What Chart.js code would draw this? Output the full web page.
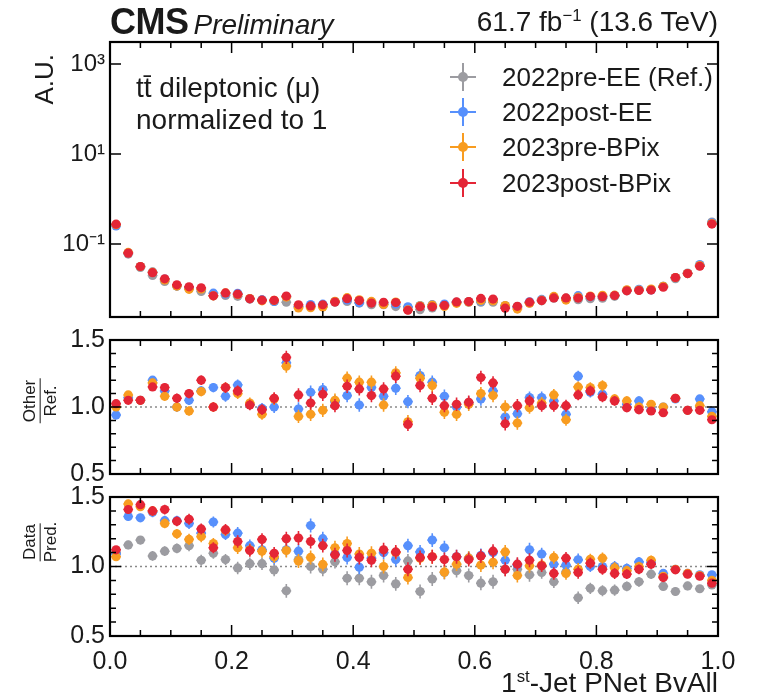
<!DOCTYPE html>
<html>
<head>
<meta charset="utf-8">
<script src="https://cdn.jsdelivr.net/npm/chart.js@4.4.1/dist/chart.umd.min.js"></script>
<style>
  body { margin: 0; background: #fff; }
  #wrap { position: relative; width: 757px; height: 694px; overflow: hidden;
          font-family: "Liberation Sans", Arial, sans-serif; color: #1a1a1a; }
  canvas { position: absolute; left: 0; }
  .txt { position: absolute; white-space: nowrap; line-height: 1; }
  sup { font-size: 0.6em; position: relative; top: -0.6em; vertical-align: baseline; }
  .frac { position: absolute; transform: translate(-50%, -50%) rotate(-90deg);
          display: flex; flex-direction: column; align-items: center; font-size: 17px; line-height: 1.05; }
  .frac span:first-child { border-bottom: 1.5px solid #1a1a1a; padding: 0 1px 1px; }
  .frac span:last-child { padding-top: 1px; }
  .leg { position: absolute; left: 438px; height: 30px; }
  .leg .h { position: absolute; left: 12px; top: 14px; width: 26px; height: 2px; }
  .leg .v { position: absolute; left: 24px; top: 1px; width: 2px; height: 28px; }
  .leg .d { position: absolute; left: 20px; top: 10px; width: 10px; height: 10px; border-radius: 50%; }
  .leg .t { position: absolute; left: 64px; top: 2px; font-size: 26px; line-height: 1; white-space: nowrap; }
</style>
</head>
<body>
<div id="wrap">
  <canvas id="cTop" width="757" height="340" style="top:0"></canvas>
  <canvas id="cMid" width="757" height="200" style="top:300px"></canvas>
  <canvas id="cBot" width="757" height="234" style="top:460px"></canvas>

  <div class="txt" style="left:110px; top:4px;"><b style="font-size:36px; letter-spacing:-0.5px;">CMS</b><i style="font-size:28px; margin-left:5px;">Preliminary</i></div>
  <div class="txt" style="right:39px; top:8px; font-size:28px;">61.7 fb<sup>−1</sup> (13.6 TeV)</div>

  <div class="txt" style="left:31px; top:54px; font-size:26px; writing-mode:vertical-rl; transform:rotate(180deg);">A.U.</div>

  <div class="txt" style="left:136px; top:74px; font-size:28px;">tt̄ dileptonic (μ)</div>
  <div class="txt" style="left:136px; top:106px; font-size:28px;">normalized to 1</div>

  <div id="legend"></div>

  <div class="frac" style="left:40px; top:401px;"><span>Other</span><span>Ref.</span></div>
  <div class="frac" style="left:40px; top:542px;"><span>Data</span><span>Pred.</span></div>

  <div class="txt" style="right:39px; top:669px; font-size:28px;">1<sup>st</sup>-Jet PNet BvAll</div>
</div>

<script>
// bins of the PNet BvAll score (50 bins of width 0.02)
const binCenters = [0.01, 0.03, 0.05, 0.07, 0.09, 0.11, 0.13, 0.15, 0.17, 0.19,
  0.21, 0.23, 0.25, 0.27, 0.29, 0.31, 0.33, 0.35, 0.37, 0.39,
  0.41, 0.43, 0.45, 0.47, 0.49, 0.51, 0.53, 0.55, 0.57, 0.59,
  0.61, 0.63, 0.65, 0.67, 0.69, 0.71, 0.73, 0.75, 0.77, 0.79,
  0.81, 0.83, 0.85, 0.87, 0.89, 0.91, 0.93, 0.95, 0.97, 0.99];
const halfBin = 0.01;

const seriesNames = ["2022pre-EE (Ref.)", "2022post-EE", "2023pre-BPix", "2023post-BPix"];
const seriesColors = ["#9c9ca1", "#5790fc", "#f89c20", "#e42536"];

// normalized shape of the reference era (2022pre-EE)
const refShape = [0.27, 0.060, 0.0303, 0.0201, 0.0148, 0.0117, 0.0102, 0.0089, 0.0071, 0.0072,
  0.0069, 0.0060, 0.0058, 0.0053, 0.0051, 0.0041, 0.0041, 0.0041, 0.0051, 0.0053,
  0.0049, 0.0045, 0.0045, 0.0041, 0.0039, 0.0035, 0.0038, 0.0043, 0.0051, 0.0051,
  0.0051, 0.0051, 0.0043, 0.0041, 0.0049, 0.0055, 0.0063, 0.0063, 0.0058, 0.0061,
  0.0063, 0.0069, 0.0092, 0.0095, 0.0098, 0.0115, 0.0170, 0.0227, 0.0330, 0.308];

// Other / Ref.
const otherPostEE = [0.94, 1.07, 1.05, 1.20, 1.12, 1.00, 1.05, 1.12, 1.145, 1.08,
  1.165, 1.02, 0.99, 1.00, 1.33, 0.985, 1.11, 1.13, 1.04, 1.085,
  1.015, 1.145, 1.08, 1.14, 1.04, 1.235, 1.185, 1.08, 1.00, 1.03,
  1.06, 1.12, 0.925, 0.95, 1.07, 1.07, 1.045, 0.945, 1.23, 1.11,
  1.095, 1.05, 1.02, 1.045, 0.98, 1.00, 1.06, 0.975, 1.06, 0.965];
const otherPreBPix = [1.00, 1.09, 1.05, 1.18, 1.08, 1.00, 0.97, 1.115, 1.00, 1.145,
  1.10, 1.03, 0.945, 1.06, 1.305, 0.93, 0.945, 0.975, 1.05, 1.215,
  1.185, 1.185, 1.015, 1.255, 0.89, 1.215, 1.16, 0.96, 0.945, 1.02,
  1.10, 1.085, 1.00, 0.88, 0.995, 1.03, 1.09, 0.905, 1.15, 1.145,
  1.16, 1.06, 1.045, 1.00, 1.02, 1.00, 1.065, 0.975, 1.01, 0.93];
const otherPostBPix = [1.025, 1.05, 1.05, 1.15, 1.145, 1.065, 1.10, 1.20, 1.00, 1.145,
  1.12, 1.015, 0.98, 1.065, 1.37, 1.09, 1.03, 1.095, 1.01, 1.155,
  1.135, 1.085, 1.135, 1.23, 0.87, 1.16, 1.065, 1.01, 1.02, 1.035,
  1.22, 1.18, 0.875, 1.01, 1.045, 1.01, 1.01, 1.01, 1.09, 1.12,
  1.075, 1.045, 0.995, 0.98, 0.97, 0.957, 1.065, 0.975, 0.975, 0.905];
const otherErr = [0.02, 0.025, 0.025, 0.03, 0.03, 0.035, 0.035, 0.035, 0.035, 0.04,
  0.04, 0.04, 0.04, 0.045, 0.05, 0.05, 0.05, 0.05, 0.05, 0.05,
  0.05, 0.05, 0.05, 0.05, 0.05, 0.05, 0.05, 0.05, 0.05, 0.05,
  0.05, 0.05, 0.05, 0.05, 0.045, 0.045, 0.045, 0.045, 0.04, 0.04,
  0.04, 0.035, 0.035, 0.035, 0.03, 0.03, 0.025, 0.025, 0.02, 0.015];

// Data / Pred.
const dataPreEE = [1.10, 1.155, 1.19, 1.076, 1.11, 1.13, 1.15, 1.045, 1.095, 1.05,
  0.99, 1.02, 1.02, 0.975, 0.825, 1.05, 1.00, 0.98, 1.035, 0.915,
  0.915, 0.89, 0.935, 0.875, 1.04, 0.82, 0.91, 0.957, 0.97, 0.935,
  0.88, 0.89, 0.98, 0.98, 0.94, 0.957, 0.89, 0.96, 0.775, 0.843,
  0.826, 0.83, 0.857, 0.89, 0.945, 0.857, 0.82, 0.86, 0.84, 0.867];
const dataPostEE = [1.09, 1.36, 1.35, 1.39, 1.33, 1.33, 1.31, 1.24, 1.32, 1.23,
  1.24, 1.15, 1.12, 1.06, 1.12, 1.11, 1.295, 1.20, 1.09, 1.065,
  0.995, 1.06, 1.10, 1.05, 1.15, 1.105, 1.19, 1.135, 1.07, 1.06,
  1.08, 1.10, 1.045, 1.01, 1.12, 1.09, 1.017, 1.01, 1.048, 1.00,
  1.00, 1.00, 0.986, 1.033, 1.03, 0.95, 0.98, 0.95, 0.94, 0.94];
const dataPreBPix = [1.07, 1.45, 1.43, 1.40, 1.31, 1.235, 1.195, 1.215, 1.165, 1.26,
  1.135, 1.12, 1.11, 1.07, 1.115, 1.04, 1.065, 1.015, 1.135, 1.165,
  1.09, 1.095, 1.00, 1.10, 0.92, 1.06, 1.07, 0.96, 1.017, 1.06,
  1.01, 1.03, 1.105, 0.935, 1.005, 1.01, 1.065, 0.95, 0.98, 1.052,
  1.06, 0.99, 0.97, 1.00, 1.045, 0.93, 0.98, 0.95, 0.935, 0.90];
const dataPostBPix = [1.12, 1.41, 1.445, 1.40, 1.41, 1.325, 1.34, 1.27, 1.135, 1.265,
  1.18, 1.115, 1.195, 1.095, 1.20, 1.205, 1.18, 1.15, 1.085, 1.115,
  1.065, 1.045, 1.12, 1.105, 0.98, 1.065, 1.07, 1.05, 1.07, 1.05,
  1.075, 1.11, 0.98, 1.017, 1.045, 1.005, 0.95, 1.06, 0.957, 1.024,
  0.98, 0.95, 0.945, 0.98, 1.017, 0.92, 0.976, 0.945, 0.93, 0.88];
const dataErr = [0.025, 0.03, 0.03, 0.035, 0.035, 0.035, 0.04, 0.04, 0.04, 0.04,
  0.045, 0.045, 0.045, 0.045, 0.05, 0.05, 0.05, 0.05, 0.05, 0.05,
  0.05, 0.05, 0.05, 0.05, 0.05, 0.05, 0.05, 0.05, 0.05, 0.05,
  0.05, 0.05, 0.05, 0.05, 0.05, 0.045, 0.045, 0.045, 0.045, 0.04,
  0.04, 0.04, 0.035, 0.035, 0.035, 0.03, 0.03, 0.03, 0.025, 0.025];

// the other eras in the top panel are the reference shape times their ratio
const shapes = [
  refShape,
  refShape.map((v, i) => v * otherPostEE[i]),
  refShape.map((v, i) => v * otherPreBPix[i]),
  refShape.map((v, i) => v * otherPostBPix[i])
];

const FONT = "'Liberation Sans', Arial, sans-serif";
const INK = "#1a1a1a";

// vertical + horizontal error bars, drawn just under each dataset's markers
const errorBars = {
  id: "errorBars",
  beforeDatasetDraw(chart, args) {
    const ds = chart.data.datasets[args.index];
    const xs = chart.scales.x, ys = chart.scales.y;
    const ctx = chart.ctx;
    ctx.save();
    ctx.strokeStyle = ds.borderColor;
    ctx.lineWidth = 1.6;
    ctx.beginPath();
    args.meta.data.forEach((pt, i) => {
      const d = ds.data[i];
      ctx.moveTo(xs.getPixelForValue(d.x - halfBin * 0.8), pt.y);
      ctx.lineTo(xs.getPixelForValue(d.x + halfBin * 0.8), pt.y);
      if (ds.yErr) {
        ctx.moveTo(pt.x, ys.getPixelForValue(d.y - ds.yErr[i]));
        ctx.lineTo(pt.x, ys.getPixelForValue(d.y + ds.yErr[i]));
      }
    });
    ctx.stroke();
    ctx.restore();
  }
};

// dotted line at ratio = 1
const unityLine = {
  id: "unityLine",
  beforeDatasetsDraw(chart) {
    const { ctx, chartArea: a } = chart;
    const y = chart.scales.y.getPixelForValue(1);
    ctx.save();
    ctx.strokeStyle = "#8a8a8a";
    ctx.lineWidth = 1.5;
    ctx.setLineDash([2, 3]);
    ctx.beginPath();
    ctx.moveTo(a.left, y);
    ctx.lineTo(a.right, y);
    ctx.stroke();
    ctx.restore();
  }
};

// box frame with inward ticks, matplotlib style
function frameWithTicks(yMajor, yMinor) {
  return {
    id: "frame",
    afterDraw(chart) {
      const { ctx, chartArea: a } = chart;
      const xs = chart.scales.x, ys = chart.scales.y;
      ctx.save();
      ctx.strokeStyle = "#000";
      ctx.lineWidth = 1.5;
      ctx.beginPath();
      for (let k = 0; k <= 20; k++) {
        const x = xs.getPixelForValue(k * 0.05);
        const len = k % 4 === 0 ? 11 : 6;
        ctx.moveTo(x, a.bottom); ctx.lineTo(x, a.bottom - len);
        ctx.moveTo(x, a.top); ctx.lineTo(x, a.top + len);
      }
      yMajor.forEach(v => {
        const y = ys.getPixelForValue(v);
        ctx.moveTo(a.left, y); ctx.lineTo(a.left + 11, y);
        ctx.moveTo(a.right, y); ctx.lineTo(a.right - 11, y);
      });
      yMinor.forEach(v => {
        const y = ys.getPixelForValue(v);
        ctx.moveTo(a.left, y); ctx.lineTo(a.left + 6, y);
        ctx.moveTo(a.right, y); ctx.lineTo(a.right - 6, y);
      });
      ctx.stroke();
      ctx.lineWidth = 2.2;
      ctx.strokeRect(a.left, a.top, a.right - a.left, a.bottom - a.top);
      ctx.restore();
    }
  };
}

function makeDatasets(valueLists, errList) {
  const out = [];
  valueLists.forEach((vals, s) => {
    if (!vals) return;
    out.push({
      label: seriesNames[s],
      data: binCenters.map((x, i) => ({ x: x, y: vals[i] })),
      backgroundColor: seriesColors[s],
      borderColor: seriesColors[s],
      pointRadius: 4.6,
      pointBorderWidth: 0,
      pointHoverRadius: 4.6,
      showLine: false,
      order: 3 - s,          // later eras painted on top, red last
      yErr: errList
    });
  });
  return out;
}

const yAxisWidth = 100;

function baseOptions(padding, yScale, showX) {
  const xScale = {
    type: "linear", min: 0, max: 1,
    display: showX,
    grid: { display: false, drawTicks: false },
    border: { display: false },
    ticks: {
      stepSize: 0.2, padding: 11, color: INK, maxRotation: 0,
      font: { family: FONT, size: 25 },
      callback: v => v.toFixed(1)
    }
  };
  if (showX) xScale.afterFit = s => { s.height = 40; };
  return {
    responsive: false,
    animation: false,
    events: [],
    layout: { padding: padding },
    plugins: { legend: { display: false }, tooltip: { enabled: false } },
    scales: {
      x: xScale,
      y: Object.assign({
        grid: { display: false, drawTicks: false },
        border: { display: false },
        afterFit: s => { s.width = yAxisWidth; }
      }, yScale)
    }
  };
}

const ratioY = {
  type: "linear", min: 0.5, max: 1.5,
  ticks: {
    stepSize: 0.5, padding: 5, color: INK,
    font: { family: FONT, size: 25 },
    callback: v => v.toFixed(1)
  }
};
const ratioMinor = [0.6, 0.7, 0.8, 0.9, 1.1, 1.2, 1.3, 1.4];

// top: normalized shapes, log scale
const logLabels = { "1000": "10³", "10": "10¹", "0.1": "10⁻¹" };
const logTicks = [0.1, 10, 1000];
new Chart(document.getElementById("cTop"), {
  type: "scatter",
  data: { datasets: makeDatasets(shapes, null) },
  options: baseOptions({ top: 42, bottom: 23, left: 10, right: 39 }, {
    type: "logarithmic", min: 0.0024, max: 3090,
    afterBuildTicks: s => { s.ticks = logTicks.map(v => ({ value: v })); },
    ticks: {
      padding: 5, color: INK,
      font: { family: FONT, size: 24 },
      callback: v => logLabels[String(v)] || ""
    }
  }, false),
  plugins: [errorBars, frameWithTicks(logTicks, [])]
});

// middle: Other / Ref.
new Chart(document.getElementById("cMid"), {
  type: "scatter",
  data: { datasets: makeDatasets([null, otherPostEE, otherPreBPix, otherPostBPix], otherErr) },
  options: baseOptions({ top: 40, bottom: 26, left: 10, right: 39 }, ratioY, false),
  plugins: [unityLine, errorBars, frameWithTicks([0.5, 1.0, 1.5], ratioMinor)]
});

// bottom: Data / Pred.
new Chart(document.getElementById("cBot"), {
  type: "scatter",
  data: { datasets: makeDatasets([dataPreEE, dataPostEE, dataPreBPix, dataPostBPix], dataErr) },
  options: baseOptions({ top: 37, bottom: 18, left: 10, right: 39 }, ratioY, true),
  plugins: [unityLine, errorBars, frameWithTicks([0.5, 1.0, 1.5], ratioMinor)]
});

// legend
const legendTops = [62, 97, 132, 168];
const legend = document.getElementById("legend");
seriesNames.forEach((name, s) => {
  const row = document.createElement("div");
  row.className = "leg";
  row.style.top = legendTops[s] + "px";
  const c = seriesColors[s];
  row.innerHTML =
    '<div class="h" style="background:' + c + '"></div>' +
    '<div class="v" style="background:' + c + '"></div>' +
    '<div class="d" style="background:' + c + '"></div>' +
    '<div class="t">' + name + '</div>';
  legend.appendChild(row);
});
</script>
</body>
</html>
